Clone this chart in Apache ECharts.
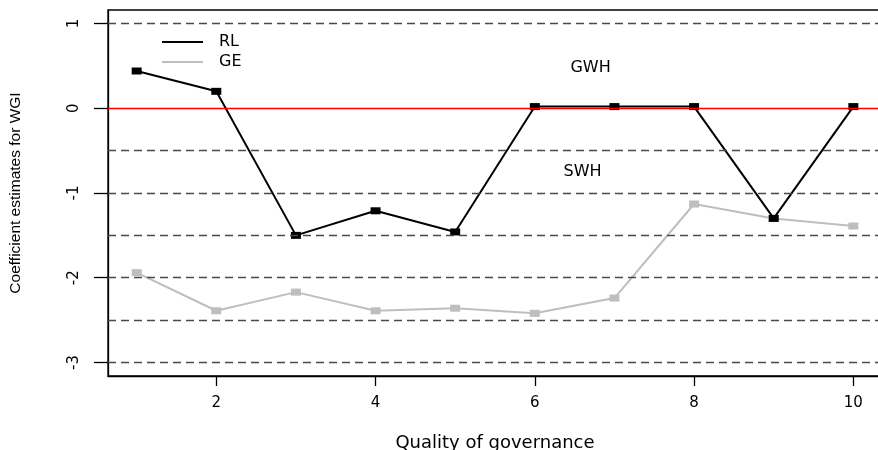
<!DOCTYPE html>
<html>
<head>
<meta charset="utf-8">
<script src="https://cdn.jsdelivr.net/npm/echarts@6/dist/echarts.min.js"></script>
<style>
  html, body { margin: 0; padding: 0; background: #ffffff; }
  #chart { width: 878px; height: 450px; }
</style>
</head>
<body>
<div id="chart"></div>
<script>
// Quality-of-governance levels on the x axis
const qualityLevels = [1, 2, 3, 4, 5, 6, 7, 8, 9, 10];
// Coefficient estimates for the two WGI indicators
const rlValues = [0.44, 0.2, -1.5, -1.21, -1.46, 0.02, 0.02, 0.02, -1.3, 0.02];
const geValues = [-1.94, -2.39, -2.17, -2.39, -2.36, -2.42, -2.24, -1.13, -1.3, -1.39];
// Axis ticks
const xTicks = [2, 4, 6, 8, 10];
const yTicks = [-3, -2, -1, 0, 1];
// Reference levels
const dashedLevels = [1, -0.5, -1, -1.5, -2, -2.5, -3];
const zeroLevel = 0;
// Region annotations
const regionNames = ['GWH', 'SWH'];
const regionX = [6.7, 6.6];
const regionY = [0.48, -0.75];

const FONT = 'DejaVu Sans';
const chart = echarts.init(document.getElementById('chart'), null, { renderer: 'canvas' });

const pairs = vals => qualityLevels.map((q, i) => [q, vals[i]]);

chart.setOption({
  animation: false,
  backgroundColor: '#ffffff',
  textStyle: { fontFamily: FONT },
  grid: {
    left: 108, top: 10, width: 774, height: 366,
    outerBoundsMode: 'none',
    containLabel: false,
    show: true, borderColor: '#000', borderWidth: 1.3, backgroundColor: 'transparent'
  },
  legend: {
    orient: 'vertical',
    left: 157, top: 28,
    icon: 'rect',
    itemWidth: 41, itemHeight: 2,
    itemGap: 2,
    data: ['RL', 'GE'],
    textStyle: { fontFamily: FONT, fontSize: 16, lineHeight: 18, color: '#000', padding: [0, 0, 0, 11] }
  },
  xAxis: {
    type: 'value',
    min: 0.64, max: 10.36,
    name: 'Quality of governance',
    nameLocation: 'middle',
    nameGap: 58,
    nameTextStyle: { fontFamily: FONT, fontSize: 18, color: '#000' },
    splitLine: { show: false },
    axisLine: { show: true, onZero: false, lineStyle: { color: '#000', width: 1.3 } },
    axisTick: { show: true, customValues: xTicks, length: 10, lineStyle: { color: '#000', width: 1.3 } },
    axisLabel: { customValues: xTicks, margin: 20, fontFamily: FONT, fontSize: 15, color: '#000' }
  },
  yAxis: {
    type: 'value',
    min: -3.16, max: 1.16,
    name: 'Coefficient estimates for WGI',
    nameLocation: 'middle',
    nameGap: 84,
    nameRotate: 90,
    nameTextStyle: { fontFamily: 'Liberation Sans', fontSize: 15.5, color: '#000' },
    splitLine: { show: false },
    axisLine: { show: true, onZero: false, lineStyle: { color: '#000', width: 1.3 } },
    axisTick: { show: true, customValues: yTicks, length: 14, lineStyle: { color: '#000', width: 1.3 } },
    axisLabel: { customValues: yTicks, rotate: 90, margin: 26, fontFamily: FONT, fontSize: 15, color: '#000' }
  },
  series: [
    {
      name: 'levels',
      type: 'line',
      data: [],
      silent: true,
      markLine: {
        silent: true,
        symbol: 'none',
        label: { show: false },
        lineStyle: { color: '#4a4a4a', type: [8, 5], width: 1.3 },
        data: dashedLevels.map(v => ({ yAxis: v }))
      }
    },
    {
      name: 'zero',
      type: 'line',
      data: [],
      silent: true,
      markLine: {
        silent: true,
        symbol: 'none',
        label: { show: false },
        lineStyle: { color: '#ff0000', type: 'solid', width: 1.3 },
        data: [{ yAxis: zeroLevel }]
      }
    },
    {
      name: 'GE',
      type: 'line',
      data: pairs(geValues),
      color: '#bebebe',
      lineStyle: { color: '#bebebe', width: 2 },
      itemStyle: { color: '#bebebe' },
      symbol: 'rect',
      symbolSize: [10, 7],
      showAllSymbol: true,
      z: 3
    },
    {
      name: 'RL',
      type: 'line',
      data: pairs(rlValues),
      color: '#000000',
      lineStyle: { color: '#000000', width: 2 },
      itemStyle: { color: '#000000' },
      symbol: 'rect',
      symbolSize: [10, 7],
      showAllSymbol: true,
      z: 4,
      markPoint: {
        silent: true,
        symbol: 'rect',
        symbolSize: 1,
        itemStyle: { color: 'rgba(255,255,255,0)' },
        label: {
          show: true,
          position: 'inside',
          formatter: p => p.name,
          fontFamily: FONT, fontSize: 16, color: '#000000'
        },
        data: regionNames.map((n, i) => ({ name: n, coord: [regionX[i], regionY[i]] }))
      }
    }
  ]
});
</script>
</body>
</html>
